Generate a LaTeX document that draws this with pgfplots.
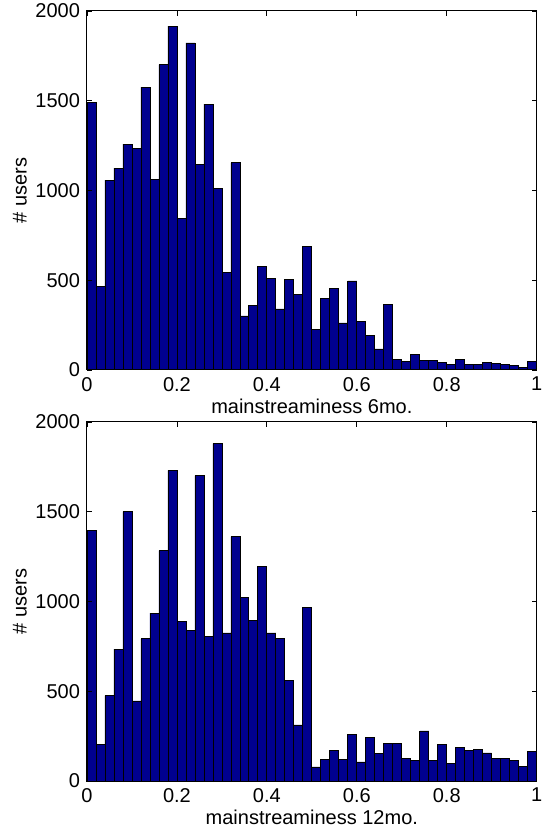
\documentclass[border=0pt]{standalone}
\usepackage{fontspec}
\setmainfont{Liberation Sans}
\usepackage{pgfplots}
\pgfplotsset{compat=1.18}
\usepackage{pgfplotstable}

\definecolor{barblue}{RGB}{0,0,143}

% histogram counts, left bin edges 0,0.02,...,0.98 (last row closes the interval)
\pgfplotstableread{
x     y
0.00  1490
0.02  465
0.04  1058
0.06  1125
0.08  1258
0.10  1236
0.12  1576
0.14  1063
0.16  1701
0.18  1916
0.20  844
0.22  1822
0.24  1143
0.26  1481
0.28  1011
0.30  545
0.32  1154
0.34  301
0.36  362
0.38  578
0.40  509
0.42  340
0.44  502
0.46  422
0.48  688
0.50  227
0.52  400
0.54  452
0.56  262
0.58  496
0.60  268
0.62  193
0.64  117
0.66  366
0.68  59
0.70  50
0.72  87
0.74  54
0.76  54
0.78  43
0.80  32
0.82  59
0.84  32
0.86  32
0.88  43
0.90  37
0.92  32
0.94  26
0.96  15
0.98  48
1.00  48
}\sixmo

\pgfplotstableread{
x     y
0.00  1396
0.02  204
0.04  476
0.06  734
0.08  1500
0.10  446
0.12  792
0.14  935
0.16  1283
0.18  1731
0.20  889
0.22  837
0.24  1701
0.26  803
0.28  1879
0.30  825
0.32  1361
0.34  1021
0.36  894
0.38  1193
0.40  825
0.42  792
0.44  561
0.46  312
0.48  969
0.50  78
0.52  119
0.54  169
0.56  119
0.58  258
0.60  106
0.62  244
0.64  151
0.66  208
0.68  208
0.70  125
0.72  112
0.74  279
0.76  112
0.78  203
0.80  100
0.82  186
0.84  169
0.86  177
0.88  156
0.90  128
0.92  128
0.94  115
0.96  82
0.98  167
1.00  167
}\twelvemo

\pgfplotsset{
  histax/.style={
    scale only axis,
    width=224.85pt, height=179.5pt,
    xmin=0, xmax=1, ymin=0, ymax=2000,
    xtick={0,0.2,0.4,0.6,0.8,1},
    ytick={0,500,1000,1500,2000},
    xticklabels={0,0.2,0.4,0.6,0.8,1},
    scaled ticks=false,
    tick align=inside, major tick length=2.5pt,
    tick style={black, line width=0.4pt},
    axis line style={line width=0.5pt},
    /pgf/number format/assume math mode=true,
    yticklabel style={/pgf/number format/1000 sep={}},
    ylabel={\# users},
    ylabel style={at={(axis description cs:-0.149,0.5)}, anchor=center},
    xlabel style={yshift=3pt},
    axis on top,
  },
}

\begin{document}
\begin{tikzpicture}
\begin{axis}[histax, at={(0,205.5pt)}, anchor=south west,
  xlabel={mainstreaminess 6mo.}]
\addplot[ybar interval, fill=barblue, draw=black, line width=0.4pt]
  table[x=x, y=y] {\sixmo};
\end{axis}
\begin{axis}[histax, at={(0,0)}, anchor=south west,
  xlabel={mainstreaminess 12mo.}]
\addplot[ybar interval, fill=barblue, draw=black, line width=0.4pt]
  table[x=x, y=y] {\twelvemo};
\end{axis}
\pgfresetboundingbox
\useasboundingbox (-43.5pt,-23.5pt) rectangle (228.5pt,390.5pt);
\end{tikzpicture}
\end{document}
